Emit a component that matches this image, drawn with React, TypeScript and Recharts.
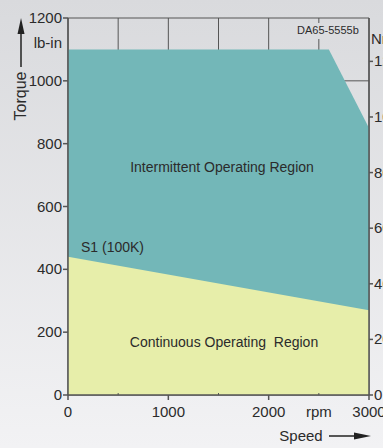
import { ComposedChart, Area, XAxis, YAxis, CartesianGrid } from "recharts";

// torque-speed envelope
const speedRpm = [0, 2600, 3000];
const intermittentTorque = [1100, 1100, 850];
const s1Speed = [0, 3000];
const s1Torque = [440, 270];

const rpmTicks = [0, 500, 1000, 1500, 2000, 2500, 3000];
const lbinTicks = [0, 200, 400, 600, 800, 1000, 1200];
const nmTicks = [0, 20, 40, 60, 80, 100, 120];

const intermittentData = speedRpm.map((s, i) => ({ speed: s, torque: intermittentTorque[i] }));
const s1Data = s1Speed.map((s, i) => ({ speed: s, torque: s1Torque[i] }));

const font = "'Liberation Sans', Arial, sans-serif";
const ink = "#2b2b2b";
const axisColor = "#555";

const XTick = (props: any) => {
  const { x, y, payload } = props;
  const v = payload.value;
  const major = v % 1000 === 0;
  const text = major ? String(v) : v === 2500 ? "rpm" : "";
  return (
    <g>
      {major ? (
        <line x1={x} y1={y} x2={x} y2={y + 5} stroke={axisColor} strokeWidth={1.5} />
      ) : (
        <line x1={x} y1={y - 2} x2={x} y2={y} stroke={axisColor} strokeWidth={1} />
      )}
      <text x={x} y={y + 22} textAnchor="middle" fontSize={15} fontFamily={font} fill={ink}>
        {text}
      </text>
    </g>
  );
};

const LeftTick = (props: any) => {
  const { x, y, payload } = props;
  return (
    <g>
      <line x1={x - 5} y1={y} x2={x} y2={y} stroke={axisColor} strokeWidth={1.5} />
      <text x={x - 6} y={y + 5} textAnchor="end" fontSize={15} fontFamily={font} fill={ink}>
        {payload.value}
      </text>
    </g>
  );
};

const RightTick = (props: any) => {
  const { x, y, payload } = props;
  return (
    <g>
      <line x1={x} y1={y} x2={x + 4} y2={y} stroke={axisColor} strokeWidth={1.5} />
      <text x={x + 5} y={y + 5} textAnchor="start" fontSize={15} fontFamily={font} fill={ink}>
        {payload.value}
      </text>
    </g>
  );
};

export default function App() {
  return (
    <div
      style={{
        position: "absolute",
        left: 0,
        top: 0,
        width: 383,
        height: 448,
        background: "linear-gradient(#d9dadd, #f2f2f4)",
      }}
    >
      <ComposedChart width={383} height={448} margin={{ top: 18, right: 0, bottom: 0, left: 0 }}>
        <CartesianGrid yAxisId="lbin" stroke={axisColor} strokeWidth={1} />
        <XAxis
          dataKey="speed"
          type="number"
          domain={[0, 3000]}
          allowDataOverflow
          ticks={rpmTicks}
          interval={0}
          height={53}
          tickSize={0}
          tickMargin={0}
          tickLine={false}
          tick={<XTick />}
          axisLine={{ stroke: axisColor, strokeWidth: 1.5 }}
        />
        <YAxis
          yAxisId="lbin"
          domain={[0, 1200]}
          allowDataOverflow
          ticks={lbinTicks}
          interval={0}
          width={68}
          tickSize={0}
          tickMargin={0}
          tickLine={false}
          tick={<LeftTick />}
          axisLine={{ stroke: axisColor, strokeWidth: 1.5 }}
        />
        <YAxis
          yAxisId="nm"
          orientation="right"
          domain={[0, 135.6]}
          allowDataOverflow
          ticks={nmTicks}
          interval={0}
          width={14}
          tickSize={0}
          tickMargin={0}
          tickLine={false}
          tick={<RightTick />}
          axisLine={{ stroke: axisColor, strokeWidth: 1.5 }}
        />
        <Area
          yAxisId="lbin"
          data={intermittentData}
          dataKey="torque"
          type="linear"
          stroke="none"
          fill="#73b7b8"
          fillOpacity={1}
          isAnimationActive={false}
        />
        <Area
          yAxisId="lbin"
          data={s1Data}
          dataKey="torque"
          type="linear"
          stroke="none"
          fill="#e7eeaa"
          fillOpacity={1}
          isAnimationActive={false}
        />
      </ComposedChart>

      <svg
        width={383}
        height={448}
        style={{ position: "absolute", left: 0, top: 0, pointerEvents: "none" }}
        fontFamily={font}
      >
        <rect x={295} y={23} width={67} height={16} fill="#dbdcdf" />
        <text x={297} y={34} fontSize={11} fill={ink}>DA65-5555b</text>
        <text x={371} y={44} fontSize={15} fill={ink}>Nm</text>
        <text x={62} y={48} fontSize={15} fill={ink} textAnchor="end">lb-in</text>

        <polygon points="21,18 17.5,34 24.5,34" fill="#222" />
        <line x1={21} y1={30} x2={21} y2={67} stroke="#222" strokeWidth={1.5} />
        <text
          x={0}
          y={0}
          fontSize={16}
          fill={ink}
          textAnchor="middle"
          transform="translate(26 96) rotate(-90)"
        >
          Torque
        </text>

        <text x={301} y={441} fontSize={15} fill={ink} textAnchor="middle">Speed</text>
        <line x1={329} y1={436} x2={358} y2={436} stroke="#222" strokeWidth={1.5} />
        <polygon points="371,436 354,432.5 354,439.5" fill="#222" />

        <text x={222} y={172} fontSize={14} fill={ink} textAnchor="middle">
          Intermittent Operating Region
        </text>
        <text x={224} y={347} fontSize={14} fill={ink} textAnchor="middle" style={{ whiteSpace: "pre" }}>
          Continuous Operating  Region
        </text>
        <text x={81} y={252} fontSize={14} fill={ink}>S1 (100K)</text>
      </svg>
    </div>
  );
}
